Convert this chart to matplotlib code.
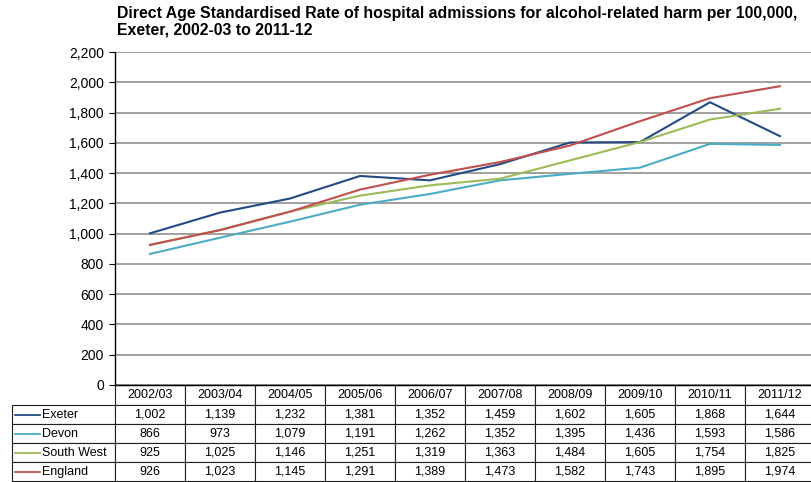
import matplotlib
matplotlib.use("Agg")
import matplotlib.pyplot as plt
from matplotlib.table import Table
from matplotlib.ticker import FuncFormatter

plt.rcParams['font.family'] = ['Liberation Sans', 'DejaVu Sans']

years = ["2002/03", "2003/04", "2004/05", "2005/06", "2006/07",
         "2007/08", "2008/09", "2009/10", "2010/11", "2011/12"]
series_names = ["Exeter", "Devon", "South West", "England"]
exeter = [1002, 1139, 1232, 1381, 1352, 1459, 1602, 1605, 1868, 1644]
devon = [866, 973, 1079, 1191, 1262, 1352, 1395, 1436, 1593, 1586]
south_west = [925, 1025, 1146, 1251, 1319, 1363, 1484, 1605, 1754, 1825]
england = [926, 1023, 1145, 1291, 1389, 1473, 1582, 1743, 1895, 1974]
series_values = [exeter, devon, south_west, england]
colors = ["#244A86", "#4BACC6", "#9BBB59", "#C0504D"]
yticks = list(range(0, 2201, 200))
title = ("Direct Age Standardised Rate of hospital admissions for alcohol-related harm per 100,000,\n"
         "Exeter, 2002-03 to 2011-12")

W, H = 812, 482
fig = plt.figure(figsize=(W / 100, H / 100), dpi=100)
ax_l, ax_r, ax_t, ax_b = 115, 815, 52, 385
ax = fig.add_axes([ax_l / W, 1 - ax_b / H, (ax_r - ax_l) / W, (ax_b - ax_t) / H])

x = list(range(len(years)))
for name, vals, c in zip(series_names, series_values, colors):
    ax.plot(x, vals, color=c, lw=1.5, zorder=3)

ax.set_xlim(-0.5, len(years) - 0.5)
ax.set_ylim(0, 2200)
ax.set_yticks(yticks)
ax.yaxis.set_major_formatter(FuncFormatter(lambda v, p: f"{int(v):,}"))
ax.set_xticks([])
ax.tick_params(axis='y', length=4, width=0.8, pad=4, labelsize=10, color='black')
ax.grid(axis='y', color='#868686', lw=1.1, zorder=0)
for s in ['top', 'right']:
    ax.spines[s].set_visible(False)
ax.spines['left'].set_color('black')
ax.spines['left'].set_linewidth(1.0)
ax.spines['bottom'].set_color('black')
ax.spines['bottom'].set_linewidth(1.0)

fig.text(117 / W, 1 - 6 / H, title, fontsize=11.4, fontweight='bold', va='top', ha='left',
         linespacing=1.1)

# data table (cell sizes in axes units)
aw = ax_r - ax_l
ah = ax_b - ax_t
head_h = 20 / ah
row_h = 19 / ah
label_w = (ax_l - 12) / aw
col_w = 1.0 / len(years)
tot_h = head_h + len(series_names) * row_h
tbl = Table(ax, bbox=[0, -tot_h, 1.0, tot_h])
tbl.auto_set_font_size(False)
for j, yr in enumerate(years):
    tbl.add_cell(0, j, width=col_w, height=head_h, text=yr, loc='center')
for i, (name, vals) in enumerate(zip(series_names, series_values), start=1):
    cell = tbl.add_cell(i, -1, width=label_w, height=row_h, text=name, loc='left')
    cell.PAD = 30 / (ax_l - 12)
    for j, v in enumerate(vals):
        tbl.add_cell(i, j, width=col_w, height=row_h, text=f"{v:,}", loc='center')
for key, cell in tbl.get_celld().items():
    cell.set_linewidth(0.8)
    cell.set_edgecolor('#202020')
    cell.get_text().set_fontsize(9)
ax.add_table(tbl)

# legend keys in the label column
for i, c in enumerate(colors):
    yc = -(head_h + i * row_h + row_h / 2)
    ax.plot([(15 - ax_l) / aw, (40 - ax_l) / aw], [yc, yc], transform=ax.transAxes,
            color=c, lw=1.3, clip_on=False)

fig.savefig("out.png", dpi=100)
